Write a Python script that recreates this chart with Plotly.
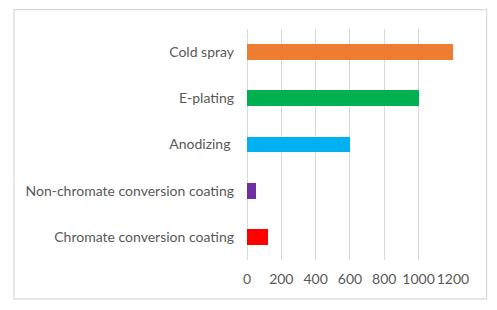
import plotly.graph_objects as go

categories = ["Chromate conversion coating", "Non-chromate conversion coating",
              "Anodizing ", "E-plating", "Cold spray"]
values = [120, 50, 600, 1000, 1200]
colors = ["#FF0000", "#7030A0", "#00B0F0", "#00B050", "#ED7D31"]
tick_vals = [0, 200, 400, 600, 800, 1000, 1200]

W, H = 497, 310
L, R, T, B = 246.7, 453.3, 28.5, 260.0

fig = go.Figure(go.Bar(
    y=categories, x=values, orientation="h",
    marker=dict(color=colors, line=dict(width=0)),
    width=0.345,
))

def px(xp):
    return (xp - L) / (R - L)

def py(yp):
    return (B - yp) / (B - T)

fig.add_shape(type="rect", xref="paper", yref="paper",
              x0=px(13), x1=px(487), y0=py(299), y1=py(9),
              line=dict(color="#D9D9D9", width=1.2), fillcolor="rgba(0,0,0,0)",
              layer="below")

fig.update_layout(
    width=W, height=H,
    margin=dict(l=L, r=W - R, t=T, b=H - B, pad=0, autoexpand=False),
    paper_bgcolor="white", plot_bgcolor="white",
    showlegend=False,
    font=dict(family="Lato", size=14, color="#595959"),
    bargap=0,
)
fig.update_xaxes(range=[0, 1200.5], tickvals=tick_vals, showgrid=True,
                 gridcolor="#D9D9D9", gridwidth=1.2, zeroline=True,
                 zerolinecolor="#D9D9D9", zerolinewidth=1.2, showline=False,
                 ticks="", ticklabelstandoff=9, automargin=False, tickangle=0,
                 tickfont=dict(family="Lato", size=14, color="#595959"))
fig.update_yaxes(range=[-0.5, 4.5], showgrid=False, zeroline=False,
                 showline=False, ticks="", ticklabelstandoff=12, automargin=False,
                 tickfont=dict(family="Lato", size=14, color="#595959"))

fig.write_html("out.html", post_script="document.body.style.margin='0';",
               config={"displayModeBar": False})
